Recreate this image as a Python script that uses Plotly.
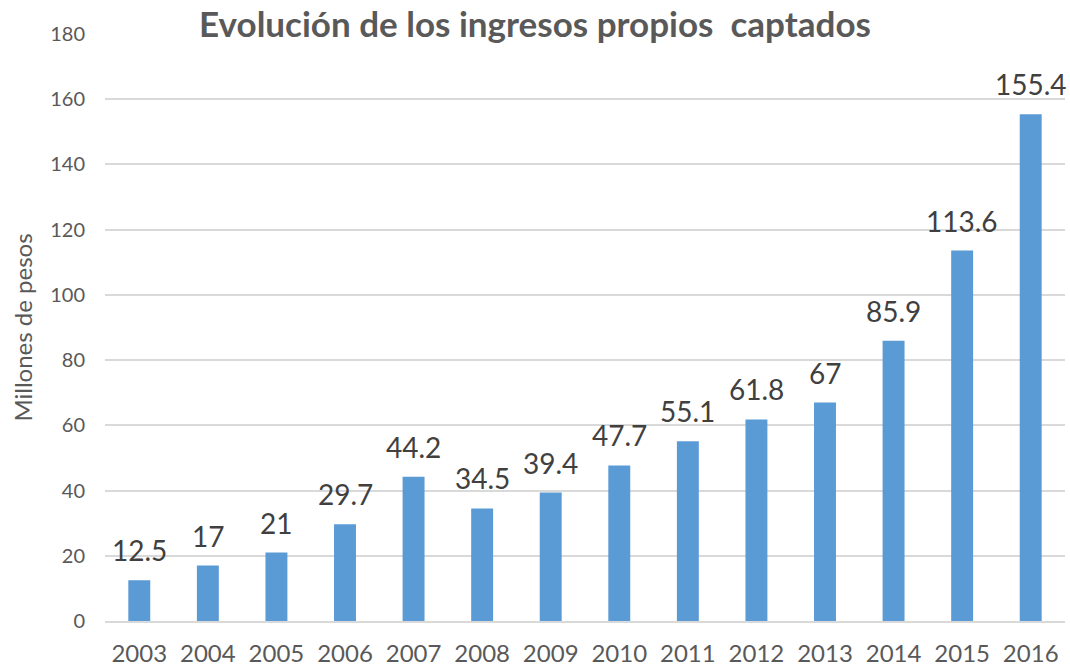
import plotly.graph_objects as go

years = ["2003", "2004", "2005", "2006", "2007", "2008", "2009", "2010",
         "2011", "2012", "2013", "2014", "2015", "2016"]
values = [12.5, 17, 21, 29.7, 44.2, 34.5, 39.4, 47.7, 55.1, 61.8, 67, 85.9, 113.6, 155.4]
labels = ["12.5", "17", "21", "29.7", "44.2", "34.5", "39.4", "47.7",
          "55.1", "61.8", "67", "85.9", "113.6", "155.4"]
y_ticks = [0, 20, 40, 60, 80, 100, 120, 140, 160, 180]

FONT = "Lato, 'Open Sans', sans-serif"

fig = go.Figure(go.Bar(
    x=years, y=values,
    marker=dict(color="#5b9bd5", line=dict(width=0)),
    cliponaxis=False,
))

# data labels placed at each category index, just above the bar top
for i, (v, lab) in enumerate(zip(values, labels)):
    fig.add_annotation(
        x=i, y=v, xref="x", yref="y", text=lab, showarrow=False,
        xanchor="center", yanchor="bottom", borderpad=0,
        yshift=12, font=dict(size=28, color="#404040", family=FONT),
    )

fig.update_layout(
    width=1070, height=668,
    margin=dict(l=105, r=5, t=34, b=47, autoexpand=False),
    paper_bgcolor="white", plot_bgcolor="white",
    bargap=0.68,
    showlegend=False,
    title=dict(text="<b>Evolución de los ingresos propios  captados</b>",
               x=0.5, xanchor="center", y=0.963, yanchor="middle",
               font=dict(size=35, color="#595959", family=FONT)),
    font=dict(family=FONT, color="#595959"),
)
fig.update_xaxes(
    type="category", range=[-0.5, len(years) - 0.5],
    showgrid=False, showline=True, linecolor="#d9d9d9", linewidth=2,
    ticks="", tickfont=dict(size=24, color="#595959"), ticklabelstandoff=10,
    automargin=False,
)
fig.update_yaxes(
    range=[0, 180], tickvals=y_ticks, showgrid=True, gridcolor="#d9d9d9", gridwidth=1.5,
    zeroline=False, showline=False, ticks="", automargin=False,
    tickfont=dict(size=20, color="#595959"), ticklabelstandoff=19,
    title=dict(text="Millones de pesos", font=dict(size=24, color="#595959"), standoff=10),
)

fig.write_html(
    "out.html",
    config={"displayModeBar": False},
    post_script="document.body.style.margin='0';document.body.style.overflow='hidden';",
)
